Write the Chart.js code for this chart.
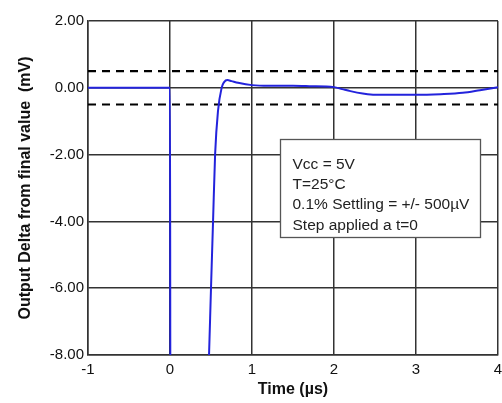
<!DOCTYPE html>
<html>
<head>
<meta charset="utf-8">
<script src="https://cdn.jsdelivr.net/npm/chart.js@4"></script>
<style>
  html, body { margin: 0; padding: 0; background: #fff; }
  #wrap { width: 502px; height: 403px; }
</style>
</head>
<body>
<div id="wrap"><canvas id="c" width="502" height="403"></canvas></div>
<script>
// settling waveform (time in µs, delta in mV)
const traceT = [-1, -0.5, 0, 0.005, 0.45, 0.476, 0.5, 0.525, 0.55, 0.585, 0.63, 0.66, 0.7, 0.75, 0.83, 1.0, 1.2, 1.5, 1.7, 2.0, 2.1, 2.2, 2.35, 2.5, 3.0, 3.3, 3.57, 3.78, 4.0];
const traceV = [0, 0, 0, -10, -10, -8, -6, -4, -2, -0.7, 0, 0.17, 0.23, 0.2, 0.15, 0.08, 0.06, 0.06, 0.05, 0.02, -0.04, -0.1, -0.17, -0.21, -0.21, -0.19, -0.15, -0.07, 0.02];

// +/- 500 µV settling band
const bandLevels = [0.5, -0.5];
const xRange = [-1, 4];
const yRange = [-8, 2];

const noteLines = ['Vcc = 5V', 'T=25°C', '0.1% Settling = +/- 500µV', 'Step applied a t=0'];
// note box corners in data units (left, top, right, bottom)
const noteBox = [1.34, -1.52, 3.78, -4.48];

const FONT = '"Liberation Sans", Arial, Helvetica, sans-serif';
const GRID = '#333';

const datasets = [{
    data: traceT.map((t, i) => ({ x: t, y: traceV[i] })),
    borderColor: '#2323dc',
    borderWidth: 2,
    pointRadius: 0,
    cubicInterpolationMode: 'monotone',
    fill: false
}];
bandLevels.forEach(v => datasets.push({
    data: xRange.map(x => ({ x, y: v })),
    borderColor: '#000',
    borderWidth: 2.2,
    borderDash: [8, 6],
    pointRadius: 0,
    fill: false
}));

const notePlugin = {
    id: 'note',
    afterDraw(chart) {
        const { ctx, scales: { x, y } } = chart;
        const l = Math.round(x.getPixelForValue(noteBox[0])) + 0.5;
        const t = Math.round(y.getPixelForValue(noteBox[1])) + 0.5;
        const r = Math.round(x.getPixelForValue(noteBox[2])) + 0.5;
        const b = Math.round(y.getPixelForValue(noteBox[3])) + 0.5;
        ctx.save();
        ctx.fillStyle = '#fff';
        ctx.fillRect(l, t, r - l, b - t);
        ctx.strokeStyle = '#555';
        ctx.lineWidth = 1.3;
        ctx.strokeRect(l, t, r - l, b - t);
        ctx.fillStyle = '#222';
        ctx.font = '15.5px ' + FONT;
        ctx.textBaseline = 'alphabetic';
        noteLines.forEach((s, i) => ctx.fillText(s, l + 12, t + 29 + i * 20.4));
        ctx.restore();
    }
};

new Chart(document.getElementById('c'), {
    type: 'line',
    data: { datasets },
    plugins: [notePlugin],
    options: {
        responsive: false,
        devicePixelRatio: 1,
        animation: false,
        layout: { padding: { top: 21, right: 4, bottom: 0, left: 0 } },
        plugins: { legend: { display: false }, tooltip: { enabled: false } },
        scales: {
            x: {
                type: 'linear',
                min: xRange[0], max: xRange[1],
                afterFit: s => { s.height = 48; s.paddingRight = 0; s.paddingLeft = 0; },
                ticks: { stepSize: 1, padding: 6, color: '#111', font: { family: FONT, size: 15 } },
                grid: { color: GRID, lineWidth: 1.5, drawTicks: false },
                border: { color: GRID, width: 1.5 },
                title: { display: true, text: 'Time (µs)', color: '#111', padding: { top: 0, bottom: 4 },
                         font: { family: FONT, size: 16, weight: 'bold', lineHeight: 1.2 } }
            },
            y: {
                min: yRange[0], max: yRange[1],
                afterFit: s => { s.width = 88; s.paddingTop = 0; s.paddingBottom = 0; },
                ticks: { stepSize: 2, padding: 4, color: '#111', font: { family: FONT, size: 15 },
                         callback: v => v.toFixed(2) },
                grid: { color: GRID, lineWidth: 1.5, drawTicks: false },
                border: { color: GRID, width: 1.5 },
                title: { display: true, text: 'Output Delta from final value  (mV)', color: '#111',
                         padding: { top: 16, bottom: 0 },
                         font: { family: FONT, size: 16, weight: 'bold', lineHeight: 1.2 } }
            }
        }
    }
});
</script>
</body>
</html>
